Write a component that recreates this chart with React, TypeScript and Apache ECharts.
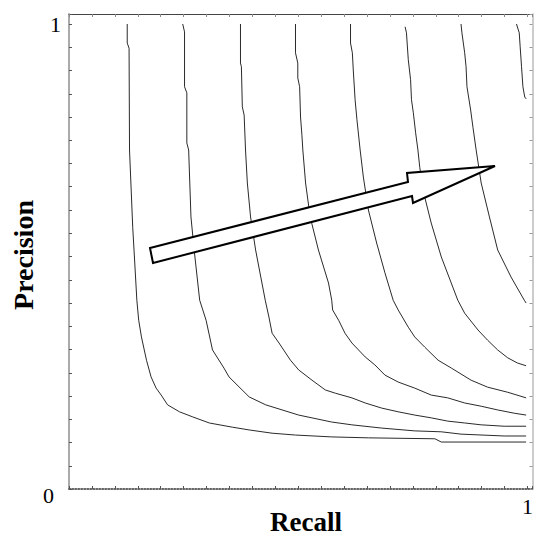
import React, { useEffect, useRef } from "react";
import * as echarts from "echarts";

// Iso-curves: [recall, precision]
const curve1: [number, number][] = [
  [0.127, 1.0], [0.127, 0.959], [0.131, 0.948], [0.132, 0.729], [0.139, 0.563], [0.148, 0.406],
  [0.152, 0.363], [0.158, 0.327], [0.169, 0.277], [0.179, 0.241], [0.19, 0.217], [0.201, 0.202],
  [0.215, 0.181], [0.241, 0.166], [0.27, 0.155], [0.306, 0.142], [0.356, 0.133], [0.393, 0.127],
  [0.443, 0.12], [0.494, 0.116], [0.573, 0.112], [0.653, 0.11], [0.798, 0.108], [0.812, 0.101],
  [0.997, 0.101],
];
const curve2: [number, number][] = [
  [0.248, 1.0], [0.252, 0.983], [0.252, 0.865], [0.257, 0.852], [0.257, 0.744], [0.261, 0.729],
  [0.266, 0.585], [0.273, 0.514], [0.285, 0.406], [0.299, 0.363], [0.313, 0.299], [0.338, 0.26],
  [0.349, 0.241], [0.393, 0.198], [0.429, 0.181], [0.501, 0.159], [0.573, 0.144], [0.617, 0.138],
  [0.682, 0.131], [0.754, 0.125], [0.812, 0.123], [0.855, 0.118], [0.949, 0.114], [0.997, 0.114],
];
const curve3: [number, number][] = [
  [0.374, 1.0], [0.374, 0.916], [0.376, 0.908], [0.378, 0.822], [0.382, 0.804], [0.385, 0.729],
  [0.389, 0.658], [0.396, 0.585], [0.407, 0.514], [0.428, 0.406], [0.436, 0.37], [0.443, 0.335],
  [0.458, 0.314], [0.483, 0.277], [0.501, 0.256], [0.53, 0.234], [0.559, 0.213], [0.581, 0.206],
  [0.617, 0.196], [0.646, 0.185], [0.682, 0.174], [0.718, 0.166], [0.754, 0.159], [0.79, 0.153],
  [0.826, 0.146], [0.863, 0.142], [0.899, 0.138], [0.949, 0.135], [0.997, 0.135],
];
const curve4: [number, number][] = [
  [0.494, 1.0], [0.494, 0.938], [0.499, 0.916], [0.499, 0.884], [0.503, 0.865], [0.505, 0.8],
  [0.508, 0.761], [0.51, 0.729], [0.516, 0.658], [0.526, 0.585], [0.544, 0.514], [0.566, 0.443],
  [0.573, 0.406], [0.575, 0.385], [0.588, 0.363], [0.602, 0.335], [0.617, 0.314], [0.646, 0.284],
  [0.667, 0.267], [0.689, 0.245], [0.718, 0.23], [0.754, 0.217], [0.79, 0.202], [0.826, 0.196],
  [0.863, 0.185], [0.899, 0.178], [0.935, 0.17], [0.971, 0.163], [0.997, 0.159],
];
const curve5: [number, number][] = [
  [0.614, 1.0], [0.614, 0.959], [0.618, 0.938], [0.62, 0.901], [0.624, 0.837], [0.628, 0.794],
  [0.635, 0.729], [0.642, 0.671], [0.653, 0.6], [0.671, 0.529], [0.689, 0.465], [0.707, 0.406],
  [0.718, 0.385], [0.74, 0.348], [0.754, 0.327], [0.776, 0.305], [0.805, 0.277], [0.834, 0.26],
  [0.877, 0.234], [0.913, 0.219], [0.957, 0.208], [0.997, 0.196],
];
const curve6: [number, number][] = [
  [0.733, 0.994], [0.736, 0.981], [0.74, 0.923], [0.745, 0.88], [0.747, 0.837], [0.751, 0.809],
  [0.756, 0.766], [0.761, 0.729], [0.765, 0.692], [0.772, 0.643], [0.79, 0.572], [0.812, 0.499],
  [0.848, 0.406], [0.863, 0.378], [0.892, 0.342], [0.913, 0.32], [0.935, 0.299], [0.957, 0.282],
  [0.978, 0.271], [0.997, 0.265],
];
const curve7: [number, number][] = [
  [0.855, 1.0], [0.857, 0.981], [0.863, 0.938], [0.866, 0.908], [0.868, 0.865], [0.876, 0.815],
  [0.881, 0.778], [0.888, 0.729], [0.899, 0.658], [0.917, 0.585], [0.935, 0.514], [0.964, 0.456],
  [0.993, 0.406], [0.997, 0.4],
];
const curve8: [number, number][] = [
  [0.976, 1.0], [0.982, 0.981], [0.984, 0.951], [0.987, 0.908], [0.99, 0.865], [0.994, 0.843],
  [0.997, 0.839],
];
const curves = [curve1, curve2, curve3, curve4, curve5, curve6, curve7, curve8];

const xTickLabels: Record<number, string> = { 1: "1" };
const yTickLabels: Record<number, string> = { 0: "0", 1: "1" };
const xTitle = "Recall";
const yTitle = "Precision";

// Arrow annotation (pixel outline)
const arrowPoints: [number, number][] = [
  [150, 248], [408, 182], [407, 173], [495, 166], [413, 203], [412, 196], [153, 263],
];

const FONT = "'Liberation Serif', 'Times New Roman', serif";

export default function App() {
  const ref = useRef<HTMLDivElement>(null);
  useEffect(() => {
    if (!ref.current) return;
    const chart = echarts.init(ref.current, undefined, { renderer: "svg" });
    const xMax = 1 + 5 / 461;
    const yMax = 1 + 10 / 465;
    const tickCommon = { show: true, inside: true, length: 3, lineStyle: { color: "#555", width: 1 } };
    chart.setOption({
      animation: false,
      backgroundColor: "#fff",
      grid: { left: 69, right: 1, top: 14, bottom: 50, containLabel: false },
      xAxis: [
        {
          type: "value", min: 0, max: xMax, interval: 0.05, position: "bottom",
          axisLine: { onZero: false, lineStyle: { color: "#333", width: 1.5, type: "dotted" } },
          axisTick: tickCommon,
          splitLine: { show: false },
          axisLabel: {
            margin: 6, fontFamily: FONT, fontSize: 22, color: "#000",
            formatter: (v: number) => xTickLabels[Math.round(v * 1000) / 1000] ?? "",
          },
        },
        {
          type: "value", min: 0, max: xMax, interval: 0.05, position: "top",
          axisLine: { onZero: false, lineStyle: { color: "#444", width: 1 } },
          axisTick: { ...tickCommon, lineStyle: { color: "#888", width: 1 } },
          splitLine: { show: false },
          axisLabel: { show: false },
        },
      ],
      yAxis: [
        {
          type: "value", min: 0, max: yMax, interval: 0.05, position: "left",
          axisLine: { onZero: false, lineStyle: { color: "#aaa", width: 2 } },
          axisTick: tickCommon,
          splitLine: { show: false },
          axisLabel: {
            margin: 8, fontFamily: FONT, fontSize: 22, color: "#000",
            formatter: (v: number) => {
              const r = Math.round(v * 1000) / 1000;
              if (r === 0) return "{z|" + yTickLabels[0] + "}";
              return yTickLabels[r] ?? "";
            },
            rich: {
              z: { fontFamily: FONT, fontSize: 22, color: "#000", padding: [13, 7, 0, 0] },
            },
          },
        },
        {
          type: "value", min: 0, max: yMax, interval: 0.05, position: "right",
          axisLine: { onZero: false, lineStyle: { color: "#bbb", width: 1.5 } },
          axisTick: { ...tickCommon, lineStyle: { color: "#999", width: 1 } },
          splitLine: { show: false },
          axisLabel: { show: false },
        },
      ],
      series: curves.map((c, i) => ({
        name: "c" + (i + 1),
        type: "line",
        xAxisIndex: 0,
        yAxisIndex: 0,
        data: c,
        showSymbol: false,
        symbol: "none",
        lineStyle: { color: "#2a2a2a", width: 1 },
        silent: true,
      })),
      graphic: [
        {
          type: "polygon",
          shape: { points: arrowPoints },
          style: { fill: "#fff", stroke: "#000", lineWidth: 2, lineJoin: "miter" },
          z: 100,
        },
        {
          type: "text",
          x: 306, y: 522,
          style: {
            text: xTitle, font: `bold 27px ${FONT}`, fill: "#000",
            align: "center", verticalAlign: "middle",
          },
        },
        {
          type: "text",
          x: 23, y: 255, rotation: Math.PI / 2,
          style: {
            text: yTitle, font: `bold 28px ${FONT}`, fill: "#000",
            align: "center", verticalAlign: "middle",
          },
        },
      ],
    });
    return () => chart.dispose();
  }, []);
  return (
    <div
      ref={ref}
      style={{ position: "fixed", left: 0, top: 0, width: 536, height: 539, background: "#fff" }}
    />
  );
}
